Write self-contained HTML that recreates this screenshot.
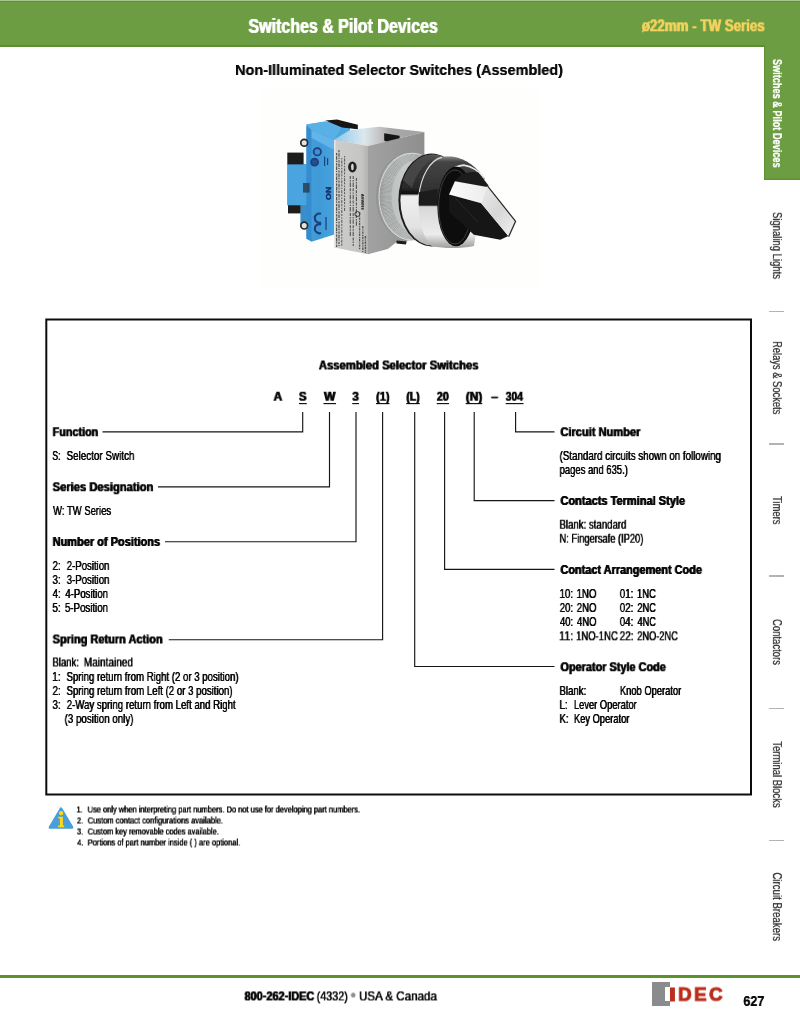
<!DOCTYPE html>
<html lang="en">
<head>
<meta charset="utf-8">
<title>Non-Illuminated Selector Switches (Assembled) - ø22mm TW Series</title>
<style>
*{box-sizing:border-box}
html,body,main,section,aside,footer,header,nav,p,div,h1,h2,h3{margin:0;padding:0}
body{width:800px;height:1024px;position:relative;overflow:hidden;background:#fff;
 font-family:"Liberation Sans",sans-serif;color:#0a0a0a}
.t{position:absolute;left:0;top:0;margin:0;padding:0;white-space:pre;line-height:1;font-weight:400;
 transform-origin:0 0;font-style:normal;will-change:transform}
.t{text-shadow:.28px 0 0 currentColor,-.28px 0 0 currentColor}
.b{font-weight:700;text-shadow:.48px 0 0 currentColor,-.48px 0 0 currentColor}
header{position:absolute;left:0;top:0;width:800px;height:47px;background:linear-gradient(to bottom,#a9c58e 0,#a9c58e .9px,#618d38 .9px,#618d38 2.1px,#6c9d42 2.1px,#6c9d42 45.4px,#5d8e34 45.4px,#5d8e34 47px)}
nav{position:absolute;left:0;top:0;width:800px;height:1024px}
nav .on{position:absolute;left:764.2px;top:45.4px;width:36px;height:134.2px;background:#6c9d42;box-shadow:inset 1.1px 0 0 #5f9036,inset 0 -1.2px 0 #5f9036}
nav i{position:absolute;left:769.2px;width:14.6px;height:1.6px;background:#b3b3b3}
svg{position:absolute;left:0;top:0;overflow:visible}
footer .rule{position:absolute;left:0;top:974.6px;width:800px;height:3.3px;background:#5b922a}
footer .sq{position:absolute;left:652px;top:982.3px;width:17.6px;height:23.3px;background:#8b8b8d}
footer .sq:after{content:"";position:absolute;left:13px;top:4.8px;width:4.6px;height:13.6px;background:#fff}
.lg{-webkit-text-stroke:1px #bb2d1c;text-shadow:none}
.logo{letter-spacing:2.4px}
.n{text-shadow:.15px 0 0 currentColor}
.s{text-shadow:.12px 0 0 currentColor,-.12px 0 0 currentColor}
.r{text-shadow:.16px 0 0 currentColor}
.r.b{text-shadow:.2px 0 0 currentColor}
</style>
</head>
<body>
<header><h1 class="t b" style="font-size:19.4px;transform:translate(248.44px,16.90px) scaleX(0.8252);color:#fff">Switches &amp; Pilot Devices</h1><span class="t b" style="font-size:16.5px;transform:translate(641.83px,17.30px) scaleX(0.8072);color:#f4d35e">ø22mm - TW Series</span></header>
<nav><div class="on"></div><span class="t b r" style="font-size:12px;transform:translate(782.90px,58.92px) rotate(90deg) scaleX(0.7644);color:#fff">Switches &amp; Pilot Devices</span><span class="t r" style="font-size:12px;transform:translate(782.90px,211.95px) rotate(90deg) scaleX(0.7906);color:#333">Signaling Lights</span><span class="t r" style="font-size:12px;transform:translate(782.90px,341.01px) rotate(90deg) scaleX(0.7796);color:#333">Relays &amp; Sockets</span><span class="t r" style="font-size:12px;transform:translate(782.90px,496.04px) rotate(90deg) scaleX(0.7835);color:#333">Timers</span><span class="t r" style="font-size:12px;transform:translate(782.90px,618.99px) rotate(90deg) scaleX(0.7913);color:#333">Contactors</span><span class="t r" style="font-size:12px;transform:translate(782.90px,741.22px) rotate(90deg) scaleX(0.7902);color:#333">Terminal Blocks</span><span class="t r" style="font-size:12px;transform:translate(782.90px,872.37px) rotate(90deg) scaleX(0.8044);color:#333">Circuit Breakers</span><i style="top:310.9px"></i><i style="top:443.1px"></i><i style="top:575.3px"></i><i style="top:707.6px"></i><i style="top:839.9px"></i></nav>
<main>
<h2 class="t b n" style="font-size:15px;transform:translate(235.00px,62.00px) scaleX(0.9642)">Non-Illuminated Selector Switches (Assembled)</h2>
<svg class="photo" style="will-change:transform" width="800" height="1024" viewBox="0 0 800 1024" role="img" aria-label="TW series selector switch">
<defs>
<filter id="soft" x="-5%" y="-5%" width="110%" height="110%"><feGaussianBlur stdDeviation="0.6"/></filter>
<linearGradient id="gBlue" x1="0" y1="0" x2="1" y2="0"><stop offset="0" stop-color="#4ea6e0"/><stop offset=".5" stop-color="#3f9ad8"/><stop offset="1" stop-color="#52abe3"/></linearGradient>
<linearGradient id="gLabel" x1="0" y1="0" x2="1" y2="0"><stop offset="0" stop-color="#cdcdcb"/><stop offset=".8" stop-color="#c6c6c4"/><stop offset="1" stop-color="#b3b3b1"/></linearGradient>
<linearGradient id="gFront" x1="0" y1="0" x2="1" y2="0"><stop offset="0" stop-color="#a2a2a2"/><stop offset="1" stop-color="#8e8e8e"/></linearGradient>
<linearGradient id="gTop" x1="0" y1="0" x2="1" y2="0"><stop offset="0" stop-color="#8fc8ec"/><stop offset=".33" stop-color="#dce8ee"/><stop offset=".5" stop-color="#c4c4c4"/><stop offset=".62" stop-color="#a9a9a9"/><stop offset="1" stop-color="#a2a2a2"/></linearGradient>
<linearGradient id="gKnurl" x1="0" y1="0" x2="1" y2="0"><stop offset="0" stop-color="#9a9d9b"/><stop offset=".12" stop-color="#b9bdbb"/><stop offset=".4" stop-color="#c6cac8"/><stop offset="1" stop-color="#adb0ae"/></linearGradient>
<linearGradient id="gChrome" x1="0" y1="0" x2="0" y2="1"><stop offset="0" stop-color="#6e6e6e"/><stop offset=".07" stop-color="#3a3a3a"/><stop offset=".36" stop-color="#2a2a2a"/><stop offset=".43" stop-color="#101010"/><stop offset=".455" stop-color="#efefef"/><stop offset=".8" stop-color="#e2e2e2"/><stop offset="1" stop-color="#b0b0b0"/></linearGradient>
<linearGradient id="gChrome2" x1="0" y1="0" x2="0" y2="1"><stop offset="0" stop-color="#8a8a8a"/><stop offset=".06" stop-color="#444"/><stop offset=".4" stop-color="#303030"/><stop offset=".52" stop-color="#161616"/><stop offset=".55" stop-color="#d8d8d8"/><stop offset=".85" stop-color="#ececec"/><stop offset="1" stop-color="#9c9c9c"/></linearGradient>
<linearGradient id="gFace" x1="0" y1="0" x2="1" y2="0"><stop offset="0" stop-color="#fbfbfb"/><stop offset="1" stop-color="#ededed"/></linearGradient>
<linearGradient id="gTip" x1="0" y1="0" x2="1" y2="1"><stop offset="0" stop-color="#e9e9e9"/><stop offset=".5" stop-color="#d6d6d6"/><stop offset="1" stop-color="#f0f0f0"/></linearGradient>
<clipPath id="cRing"><ellipse cx="410.8" cy="196.6" rx="33.2" ry="43.6"/></clipPath>
<clipPath id="cLabel"><path d="M334.3 139.4 L368 145.9 L368 254.2 L334.3 247.6 Z"/></clipPath>
</defs>
<rect x="262" y="88" width="278" height="200" fill="#fefefd"/>
<g filter="url(#soft)">
 <!-- contact block (blue) -->
 <path d="M306.4 124.6 L325.4 121.6 L350 126 L350 142 L334.3 140 L334.3 234.6 L311.5 241.8 L306.4 238.8 L306.4 226 L300.6 224 L300.6 205.2 L287.3 205.2 L287.3 164.2 L306.4 164.2 Z" fill="url(#gBlue)"/>
 <path d="M287.3 164.2 H306.4 V205.2 H287.3 Z" fill="#4aa4e0"/>
 <path d="M306.4 126 L311.5 130 L311.5 241 L306.4 238.8 L306.4 226 L300.6 224 L300.6 205.2 L306.4 205.2 Z" fill="#3388cc" opacity=".8"/>
 <path d="M311.5 130 L334.3 140 L334.3 150 L311.5 138 Z" fill="#63b4e8"/>
 <path d="M306.4 124.6 L325.4 121.6 L342 126.5 L334.3 140 L311.5 130 Z" fill="#58b0e6"/>
 <path d="M303 183 h6.6 v9.6 h-6.6z" fill="#2a3f55" opacity=".85"/>
 <!-- black terminals -->
 <path d="M325.4 120.6 L337 119.6 L357.8 124.8 L357.8 129.2 L342 127.6 Z" fill="#141414"/>
 <path d="M287.3 152.6 H303.6 V164.4 H287.3 Z" fill="#1d1a1a"/>
 <path d="M288 205.2 H300.6 V213.4 H288 Z" fill="#1d1a1a"/>
 <!-- screws and markings -->
 <circle cx="304.2" cy="142.8" r="3.4" fill="#e3e3e3" stroke="#2a2a2a" stroke-width="1.7"/>
 <circle cx="304.2" cy="225.6" r="3.4" fill="#e3e3e3" stroke="#2a2a2a" stroke-width="1.7"/>
 <g fill="none" stroke="#1c3f7a" stroke-width="1.7">
  <circle cx="317.3" cy="151.8" r="3.7" fill="#3f8fd0"/><circle cx="314.6" cy="162.2" r="3.5" fill="#27508e"/>
  <path d="M321 213.8 a4.6 4.6 0 1 0 0 8.6" stroke-width="2.1"/><path d="M321 224.4 a4.6 4.6 0 1 0 0 8.6" stroke-width="2.1"/>
  <path d="M324.6 156.5 v9.5 M327.6 158 v7 M326 217 v13" stroke-width="1.2"/>
 </g>
 <!-- grey housing -->
 <path d="M334.3 139.4 L350 130 L379 126.8 L424.4 132 L368 145.9 Z" fill="url(#gTop)"/>
 <path d="M384.2 133.2 L399.6 135.8 L399.6 143.6 L391 144.4 L384.2 140.4 Z" fill="#161616"/>
 <path d="M368 145.9 L424.4 132 L424.4 200 L406 244 L396.6 242 L387.8 249 L368 254.2 Z" fill="url(#gFront)"/>
 <path d="M334.3 139.4 L368 145.9 L368 254.2 L334.3 247.6 Z" fill="url(#gLabel)"/>
 <path d="M334.8 140 V247.4" stroke="#e9ecec" stroke-width="1.3" fill="none"/>
 <path d="M396.6 240.4 L406.2 241.6 L406 244.4 L396.4 243.6 Z" fill="#1a1a1a"/>
 <!-- label print -->
 <g clip-path="url(#cLabel)" stroke="#333" fill="none" opacity=".78">
  <path d="M336.6 153 V247 M339 150 V246" stroke-width="1.2" stroke-dasharray="2.2 1 3.6 .9 1.2 1.3"/>
  <path d="M341.8 158 V246 M344.6 156 V212" stroke-width="1" stroke-dasharray="1.4 1.1 3 1 2 1.4"/>
  <path d="M350.3 176 V236 M353.2 176 V246 M356.4 178 V226" stroke-width="1.1" stroke-dasharray="3 1.1 1.4 1 4.4 1.4"/>
  <path d="M359.6 212 V250 M362.8 194 V210 M362.8 226 V252 M365.4 236 V253" stroke-width="1.3" stroke-dasharray="2.4 1 1.2 .8"/>
 </g>
 <ellipse cx="352.4" cy="167" rx="4.3" ry="5.4" fill="#232323"/>
 <ellipse cx="352.4" cy="167" rx="1.3" ry="3.2" fill="#d8d8d8"/>
 <circle cx="357.4" cy="214" r="2.5" fill="none" stroke="#3a3a3a" stroke-width="1"/>
 <!-- knurled mounting ring -->
 <ellipse cx="409.8" cy="196.6" rx="33.7" ry="44" fill="#8f9290"/>
 <ellipse cx="410.8" cy="196.6" rx="33.2" ry="43.6" fill="url(#gKnurl)"/>
 <ellipse clip-path="url(#cRing)" cx="416" cy="196.8" rx="31" ry="43" fill="none" stroke="#7d817f" stroke-width="13" stroke-dasharray=".55 .75" opacity=".6"/>
 <ellipse cx="412.4" cy="196.8" rx="33.4" ry="43.6" fill="none" stroke="#eef0ef" stroke-width="1" opacity=".7"/>
 <!-- chrome bezel: rear ring -->
 <ellipse cx="431.6" cy="200" rx="33.2" ry="46.4" fill="#1b1b1b"/>
 <ellipse cx="432.6" cy="200" rx="32.2" ry="45.6" fill="url(#gChrome)"/>
 <path d="M403 180 C408 166 417 157 428 155 L440 156 C428 160 417 170 412 188 Z" fill="#4a4a4a" opacity=".8"/>
 <!-- chrome bezel: front ring -->
 <path d="M418.6 204 C418.6 176 428 158.5 442 156.4 L452 156.4 C466 158 478 168 484.4 178.6 L474 246 C460 249 445 248.4 432 246.6 C423 238 418.6 222 418.6 204 Z" fill="url(#gChrome2)"/>
 <path d="M418.8 196 C421 176 430 160 442 157.4" fill="none" stroke="#dedede" stroke-width="1.1"/>
 <path d="M419 192.2 L437.6 189 L437.8 205.6 L419 205.4 Z" fill="#1c1c1c"/>
 <path d="M441.7 188.6 C445 174 453 166 463.7 165.1 C472 166 480 172 484.2 178.3" fill="none" stroke="#e6e6e6" stroke-width="1.6"/>
 <!-- knob -->
 <ellipse cx="456" cy="206.4" rx="18.6" ry="39.8" fill="#0f0f0f"/>
 <ellipse cx="455" cy="207" rx="16.4" ry="37" fill="none" stroke="#3c3c3c" stroke-width="1"/>
 <path d="M457.8 178.3 C462 173.4 470 171 478.3 172.5 L488.6 185.6 L485.6 187.6 L455 181.4 Z" fill="#1f1f1f"/>
 <path d="M449 194.4 L481.2 203.2 L508.3 236.1 L500.3 239.8 L473.9 234.7 L449 212 Z" fill="#131313"/>
 <path d="M454.9 181.2 L487.1 187.1 L481.2 203.2 L449 194.4 Z" fill="url(#gFace)"/>
 <path d="M487.1 187.1 L514.9 221.5 L508.3 236.1 L481.2 203.2 Z" fill="url(#gTip)"/>
 <path d="M487.6 186.2 L515.6 221.3 L508.6 236.8" stroke="#2a2a2a" stroke-width="1.3" fill="none" stroke-linejoin="round"/>
 <path d="M455 198 L478 222" stroke="#333" stroke-width="1" fill="none" opacity=".8"/>
</g>
<g font-family="'Liberation Sans',sans-serif" font-weight="700">
<text transform="translate(325.7 186.8) rotate(90)" font-size="7.4" fill="#12356f" stroke="#12356f" stroke-width=".5" textLength="13.2" lengthAdjust="spacingAndGlyphs">NO</text>
<text transform="translate(360.8 194) rotate(90)" font-size="4.4" fill="#2c2c2c" textLength="15.6" lengthAdjust="spacingAndGlyphs">ASW219</text>
</g>
</svg>

<section><svg width="800" height="1024" viewBox="0 0 800 1024" aria-hidden="true"><rect x="46.3" y="319.5" width="704.7" height="475" fill="none" stroke="#0c0c0c" stroke-width="2"/><g fill="none" stroke="#161616" stroke-width="1.15"><path d="M302.7 412V431.9H102.5"/><path d="M329.5 412V486.8H158"/><path d="M356 412V541.7H165"/><path d="M382.6 412V639.7H168.75"/><path d="M414.7 412V666.5H554.5"/><path d="M444.6 412V569.3H554.5"/><path d="M474.2 412V500.6H554.5"/><path d="M515.6 412V431.9H554.5"/><path d="M298.95 403.6h7.85"/><path d="M323.45 403.6h12.6"/><path d="M352.2 403.6h6.85"/><path d="M375.95 403.6h13.6"/><path d="M406.2 403.6h13.6"/><path d="M436.7 403.6h12.35"/><path d="M465.7 403.6h16.6"/><path d="M505.7 403.6h17.85"/></g></svg>
<h3 class="t b" style="font-size:13.4px;transform:translate(318.83px,358.50px) scaleX(0.8413)">Assembled Selector Switches</h3>
<p><span class="t b" style="font-size:13.4px;transform:translate(273.59px,389.75px) scaleX(0.8915)">A</span><span class="t b" style="font-size:13.4px;transform:translate(298.88px,389.75px) scaleX(0.8554)">S</span><span class="t b" style="font-size:13.4px;transform:translate(324.00px,389.75px) scaleX(0.9023)">W</span><span class="t b" style="font-size:13.4px;transform:translate(352.31px,389.75px) scaleX(0.8760)">3</span><span class="t b" style="font-size:13.4px;transform:translate(376.16px,389.75px) scaleX(0.8085)">(1)</span><span class="t b" style="font-size:13.4px;transform:translate(406.39px,389.75px) scaleX(0.7728)">(L)</span><span class="t b" style="font-size:13.4px;transform:translate(436.84px,389.75px) scaleX(0.8011)">20</span><span class="t b" style="font-size:13.4px;transform:translate(465.80px,389.75px) scaleX(0.8856)">(N)</span><span class="t b" style="font-size:13.4px;transform:translate(491.16px,389.75px) scaleX(0.9311)">–</span><span class="t b" style="font-size:13.4px;transform:translate(505.71px,389.75px) scaleX(0.7712)">304</span></p>
<div><span class="t b" style="font-size:13.4px;transform:translate(52.64px,425.25px) scaleX(0.8062)">Function</span><span class="t" style="font-size:12.8px;transform:translate(52.29px,450.00px) scaleX(0.6811)">S:</span><span class="t" style="font-size:12.8px;transform:translate(66.54px,450.00px) scaleX(0.7697)">Selector Switch</span><span class="t b" style="font-size:13.4px;transform:translate(52.63px,480.25px) scaleX(0.8352)">Series Designation</span><span class="t" style="font-size:12.8px;transform:translate(53.07px,505.00px) scaleX(0.7404)">W: TW Series</span><span class="t b" style="font-size:13.4px;transform:translate(52.64px,535.00px) scaleX(0.8205)">Number of Positions</span><span class="t" style="font-size:12.8px;transform:translate(52.53px,560.00px) scaleX(0.7590)">2:</span><span class="t" style="font-size:12.8px;transform:translate(66.72px,560.00px) scaleX(0.7497)">2-Position</span><span class="t" style="font-size:12.8px;transform:translate(52.50px,574.00px) scaleX(0.7622)">3:</span><span class="t" style="font-size:12.8px;transform:translate(66.71px,574.00px) scaleX(0.7503)">3-Position</span><span class="t" style="font-size:12.8px;transform:translate(52.61px,588.00px) scaleX(0.7548)">4:</span><span class="t" style="font-size:12.8px;transform:translate(65.32px,588.00px) scaleX(0.7499)">4-Position</span><span class="t" style="font-size:12.8px;transform:translate(52.43px,602.00px) scaleX(0.7689)">5:</span><span class="t" style="font-size:12.8px;transform:translate(64.92px,602.00px) scaleX(0.7573)">5-Position</span><span class="t b" style="font-size:13.4px;transform:translate(52.64px,632.50px) scaleX(0.8199)">Spring Return Action</span><span class="t" style="font-size:12.8px;transform:translate(52.45px,656.50px) scaleX(0.7441)">Blank:</span><span class="t" style="font-size:12.8px;transform:translate(83.82px,656.50px) scaleX(0.7850)">Maintained</span><span class="t" style="font-size:12.8px;transform:translate(52.07px,671.00px) scaleX(0.8049)">1:</span><span class="t" style="font-size:12.8px;transform:translate(66.54px,671.00px) scaleX(0.7511)">Spring return from Right (2 or 3 position)</span><span class="t" style="font-size:12.8px;transform:translate(52.53px,685.00px) scaleX(0.7590)">2:</span><span class="t" style="font-size:12.8px;transform:translate(66.53px,685.00px) scaleX(0.7528)">Spring return from Left (2 or 3 position)</span><span class="t" style="font-size:12.8px;transform:translate(52.50px,699.00px) scaleX(0.7622)">3:</span><span class="t" style="font-size:12.8px;transform:translate(66.71px,699.00px) scaleX(0.7532)">2-Way spring return from Left and Right</span><span class="t" style="font-size:12.8px;transform:translate(64.57px,713.00px) scaleX(0.7626)">(3 position only)</span></div>
<div><span class="t b" style="font-size:13.4px;transform:translate(560.41px,425.25px) scaleX(0.8270)">Circuit Number</span><span class="t" style="font-size:12.8px;transform:translate(559.57px,450.00px) scaleX(0.7637)">(Standard circuits shown on following</span><span class="t" style="font-size:12.8px;transform:translate(559.58px,464.00px) scaleX(0.7381)">pages and 635.)</span><span class="t b" style="font-size:13.4px;transform:translate(560.43px,494.00px) scaleX(0.8224)">Contacts Terminal Style</span><span class="t" style="font-size:12.8px;transform:translate(559.44px,518.75px) scaleX(0.7530)">Blank: standard</span><span class="t" style="font-size:12.8px;transform:translate(559.49px,532.75px) scaleX(0.7277)">N: Fingersafe (IP20)</span><span class="t b" style="font-size:13.4px;transform:translate(560.43px,563.00px) scaleX(0.8149)">Contact Arrangement Code</span><span class="t" style="font-size:12.8px;transform:translate(559.47px,588.00px) scaleX(0.7648)">10:</span><span class="t" style="font-size:12.8px;transform:translate(576.47px,588.00px) scaleX(0.7596)">1NO</span><span class="t" style="font-size:12.8px;transform:translate(619.77px,588.00px) scaleX(0.7608)">01:</span><span class="t" style="font-size:12.8px;transform:translate(636.89px,588.00px) scaleX(0.7419)">1NC</span><span class="t" style="font-size:12.8px;transform:translate(559.72px,602.00px) scaleX(0.7512)">20:</span><span class="t" style="font-size:12.8px;transform:translate(576.72px,602.00px) scaleX(0.7503)">2NO</span><span class="t" style="font-size:12.8px;transform:translate(619.77px,602.00px) scaleX(0.7608)">02:</span><span class="t" style="font-size:12.8px;transform:translate(637.35px,602.00px) scaleX(0.7240)">2NC</span><span class="t" style="font-size:12.8px;transform:translate(559.99px,616.00px) scaleX(0.7353)">40:</span><span class="t" style="font-size:12.8px;transform:translate(576.98px,616.00px) scaleX(0.7414)">4NO</span><span class="t" style="font-size:12.8px;transform:translate(619.77px,616.00px) scaleX(0.7608)">04:</span><span class="t" style="font-size:12.8px;transform:translate(637.49px,616.00px) scaleX(0.7184)">4NC</span><span class="t" style="font-size:12.8px;transform:translate(558.92px,630.30px) scaleX(0.8529)">11:</span><span class="t" style="font-size:12.8px;transform:translate(576.02px,630.30px) scaleX(0.7440)">1NO-1NC</span><span class="t" style="font-size:12.8px;transform:translate(619.64px,630.30px) scaleX(0.7809)">22:</span><span class="t" style="font-size:12.8px;transform:translate(637.22px,630.30px) scaleX(0.7223)">2NO-2NC</span><span class="t b" style="font-size:13.4px;transform:translate(560.43px,660.25px) scaleX(0.8141)">Operator Style Code</span><span class="t" style="font-size:12.8px;transform:translate(559.45px,685.00px) scaleX(0.7530)">Blank:</span><span class="t" style="font-size:12.8px;transform:translate(619.87px,685.00px) scaleX(0.7313)">Knob Operator</span><span class="t" style="font-size:12.8px;transform:translate(559.43px,699.00px) scaleX(0.7673)">L:</span><span class="t" style="font-size:12.8px;transform:translate(573.89px,699.00px) scaleX(0.7300)">Lever Operator</span><span class="t" style="font-size:12.8px;transform:translate(559.43px,713.00px) scaleX(0.7586)">K:</span><span class="t" style="font-size:12.8px;transform:translate(573.90px,713.00px) scaleX(0.7293)">Key Operator</span></div>
</section>
<aside><svg width="800" height="1024" viewBox="0 0 800 1024" aria-hidden="true"><path d="M61 808.6 L72.1 827.5 H49.9 Z" fill="#489fd7" stroke="#489fd7" stroke-width="2.6" stroke-linejoin="round"/><circle cx="61.1" cy="813.1" r="2.2" fill="#fdd818"/><path d="M58.2 816.8h4.7v8.7h1.2v1.8h-6v-1.8h1.8v-6.9h-1.7z" fill="#fdd818"/></svg>
<span class="t s" style="font-size:9.2px;transform:translate(76.55px,805.50px) scaleX(0.8100)">1.</span><span class="t s" style="font-size:9.2px;transform:translate(87.60px,805.50px) scaleX(0.8144)">Use only when interpreting part numbers. Do not use for developing part numbers.</span><span class="t s" style="font-size:9.2px;transform:translate(76.93px,816.50px) scaleX(0.8100)">2.</span><span class="t s" style="font-size:9.2px;transform:translate(87.70px,816.50px) scaleX(0.8198)">Custom contact configurations available.</span><span class="t s" style="font-size:9.2px;transform:translate(76.97px,827.50px) scaleX(0.8100)">3.</span><span class="t s" style="font-size:9.2px;transform:translate(87.70px,827.50px) scaleX(0.8076)">Custom key removable codes available.</span><span class="t s" style="font-size:9.2px;transform:translate(77.22px,838.50px) scaleX(0.8100)">4.</span><span class="t s" style="font-size:9.2px;transform:translate(87.62px,838.50px) scaleX(0.8165)">Portions of part number inside ( ) are optional.</span></aside>
</main>
<footer><div class="rule"></div><span class="t b" style="font-size:13.6px;transform:translate(244.54px,989.40px) scaleX(0.8028)">800-262-IDEC</span><span class="t" style="font-size:13.6px;transform:translate(316.70px,989.40px) scaleX(0.7897)">(4332)</span><span class="t" style="font-size:16px;transform:translate(350.52px,987.40px) scaleX(0.9516);color:#8f8f8f">•</span><span class="t" style="font-size:13.6px;transform:translate(358.99px,989.40px) scaleX(0.8515)">USA &amp; Canada</span><div class="sq"></div><b><span class="t b lg" style="font-size:18.8px;transform:translate(668.91px,985.60px) scaleX(1.3203);color:#bb2d1c">I</span><span class="t b lg logo" style="font-size:18.8px;transform:translate(678.09px,985.60px) scaleX(0.9990);color:#bb2d1c">DEC</span></b><span class="t b n" style="font-size:15.4px;transform:translate(743.17px,993.00px) scaleX(0.8245)">627</span></footer>
</body>
</html>
